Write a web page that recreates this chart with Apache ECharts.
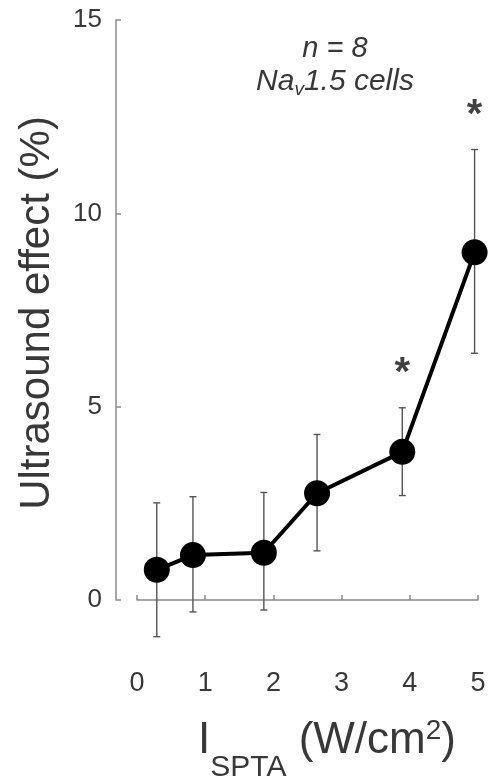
<!DOCTYPE html>
<html>
<head>
<meta charset="utf-8">
<title>Ultrasound effect</title>
<script src="https://cdn.jsdelivr.net/npm/echarts@6/dist/echarts.min.js"></script>
<style>
  html, body { margin: 0; padding: 0; background: #fff; }
  #main { width: 503px; height: 776px; }
</style>
</head>
<body>
<div id="main"></div>
<script>
// intensity (W/cm2) and mean effect (%)
var xVals = [0.29, 0.82, 1.86, 2.64, 3.89, 4.95];
var yVals = [0.78, 1.16, 1.22, 2.76, 3.83, 8.99];
var errLow = [-0.95, -0.31, -0.26, 1.27, 2.70, 6.38];
var errHigh = [2.51, 2.67, 2.78, 4.28, 4.97, 11.65];
var stars = ['', '', '', '', '*', '*'];
var yTicks = [0, 5, 10, 15];
var xTicks = [0, 1, 2, 3, 4, 5];

var font = 'Liberation Sans, Arial, sans-serif';
var axisGray = '#8a8a8a';
var textGray = '#383838';

var lineData = xVals.map(function (x, i) { return [x, yVals[i]]; });
var errData = xVals.map(function (x, i) { return [x, errLow[i], errHigh[i]]; });
var starData = xVals.map(function (x, i) { return stars[i] ? [x, errHigh[i], stars[i]] : null; })
  .filter(function (d) { return d; });

var chart = echarts.init(document.getElementById('main'));
chart.setOption({
  animation: false,
  grid: [
    { left: 137, right: 25, top: 20, bottom: 120 },
    { left: 116, width: 10, top: 20, height: 580 }
  ],
  xAxis: [{
    gridIndex: 0, type: 'value', min: xTicks[0], max: xTicks[xTicks.length - 1], interval: 1,
    axisLine: { lineStyle: { color: axisGray, width: 1.5 } },
    axisTick: { inside: true, length: 5, lineStyle: { color: axisGray, width: 1.5 } },
    axisLabel: { color: textGray, fontSize: 27, fontFamily: font, margin: 14 },
    splitLine: { show: false }
  }, {
    gridIndex: 1, type: 'value', min: 0, max: 1, show: false
  }],
  yAxis: [{
    gridIndex: 0, type: 'value', min: -1.45, max: 15, show: false
  }, {
    gridIndex: 1, type: 'value', min: yTicks[0], max: yTicks[yTicks.length - 1], interval: 5,
    axisLine: { show: true, lineStyle: { color: axisGray, width: 1.5 } },
    axisTick: { show: true, inside: true, length: 5, lineStyle: { color: axisGray, width: 1.5 } },
    axisLabel: { color: textGray, fontSize: 26, fontFamily: font, margin: 14 },
    splitLine: { show: false }
  }],
  graphic: [{
    type: 'text', rotation: Math.PI / 2, x: 37, y: 313,
    style: { text: 'Ultrasound effect (%)', fill: textGray, font: '42px ' + font, align: 'center', verticalAlign: 'middle' }
  }, {
    type: 'text', x: 327, y: 740,
    style: {
      text: '{m|I}{s|SPTA}{m| (W/cm}{p|2}{m|)}',
      align: 'center', verticalAlign: 'middle',
      rich: {
        m: { fontSize: 44, fontFamily: font, fill: textGray, verticalAlign: 'bottom', lineHeight: 46 },
        s: { fontSize: 30, fontFamily: font, fill: textGray, verticalAlign: 'bottom', lineHeight: 46, padding: [0, 0, -20, 0] },
        p: { fontSize: 28, fontFamily: font, fill: textGray, verticalAlign: 'top', lineHeight: 46, padding: [0, 0, 16, 0] }
      }
    }
  }, {
    type: 'text', x: 335, y: 49,
    style: { text: 'n = 8', fill: textGray, font: 'italic 29px ' + font, align: 'center', verticalAlign: 'middle' }
  }, {
    type: 'text', x: 335, y: 82,
    style: {
      text: '{a|Na}{b|v}{a|1.5 cells}', align: 'center', verticalAlign: 'middle',
      rich: {
        a: { fontSize: 30, fontStyle: 'italic', fontFamily: font, fill: textGray },
        b: { fontSize: 19, fontStyle: 'italic', fontFamily: font, fill: textGray, padding: [0, 0, -16, 0] }
      }
    }
  }],
  series: [{
    type: 'custom', xAxisIndex: 0, yAxisIndex: 0, z: 1,
    data: errData,
    renderItem: function (params, api) {
      var lo = api.coord([api.value(0), api.value(1)]);
      var hi = api.coord([api.value(0), api.value(2)]);
      var c = 3.5;
      var st = { stroke: '#555', lineWidth: 1.4 };
      return {
        type: 'group',
        children: [
          { type: 'line', shape: { x1: lo[0], y1: lo[1], x2: hi[0], y2: hi[1] }, style: st },
          { type: 'line', shape: { x1: lo[0] - c, y1: lo[1], x2: lo[0] + c, y2: lo[1] }, style: st },
          { type: 'line', shape: { x1: hi[0] - c, y1: hi[1], x2: hi[0] + c, y2: hi[1] }, style: st }
        ]
      };
    }
  }, {
    type: 'line', xAxisIndex: 0, yAxisIndex: 0, z: 3,
    data: lineData,
    symbol: 'circle', symbolSize: 26,
    lineStyle: { color: '#000', width: 4 },
    itemStyle: { color: '#000' }
  }, {
    type: 'scatter', xAxisIndex: 0, yAxisIndex: 0, z: 4,
    data: starData, symbolSize: 0,
    label: {
      show: true, position: 'top', distance: 14,
      formatter: function (p) { return p.value[2]; },
      fontSize: 40, fontWeight: 'bold', fontFamily: font, color: '#111'
    }
  }]
});
</script>
</body>
</html>
